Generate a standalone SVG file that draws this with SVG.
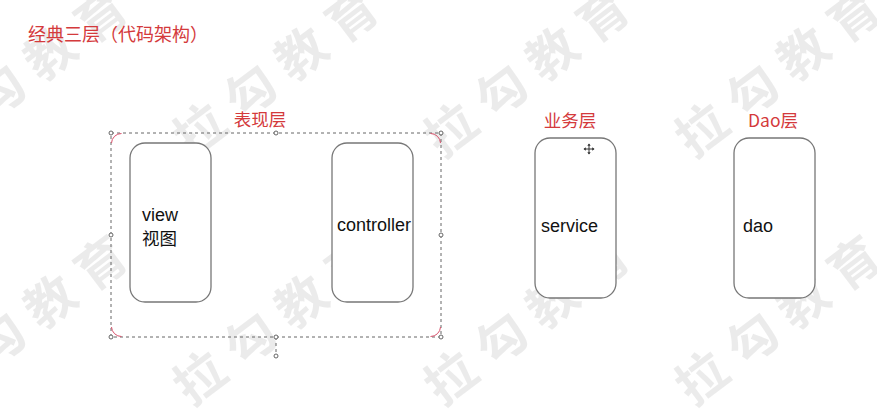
<svg xmlns="http://www.w3.org/2000/svg" width="877" height="409" viewBox="0 0 877 409">
<style>
.wm{font-family:"Noto Sans CJK SC","Noto Sans",sans-serif;font-weight:700;font-size:50px;letter-spacing:13.5px;fill:#000;fill-opacity:0.08}
.title{font-family:"Noto Sans CJK SC","Liberation Sans",sans-serif;fill:#d43a3c}
.box{fill:#fff;stroke:#777;stroke-width:1.3}
.lbl{font-family:"Liberation Sans","Noto Sans CJK SC",sans-serif;font-size:18px;fill:#111}
.cjk{font-family:"Noto Sans CJK SC",sans-serif;font-size:17.5px;fill:#111}
.sel{fill:none;stroke:#666;stroke-width:1;stroke-dasharray:3 3}
.hdl{fill:#fff;stroke:#666;stroke-width:1}
.arc{fill:none;stroke:#d9506a;stroke-width:1}
</style>
<rect width="877" height="409" fill="#fff"/>
<g id="watermarks">
<text class="wm" transform="translate(-51,130) rotate(-37)" x="-25" y="18">拉勾教育</text>
<text class="wm" transform="translate(200,130) rotate(-37)" x="-25" y="18">拉勾教育</text>
<text class="wm" transform="translate(451,130) rotate(-37)" x="-25" y="18">拉勾教育</text>
<text class="wm" transform="translate(702,130) rotate(-37)" x="-25" y="18">拉勾教育</text>
<text class="wm" transform="translate(-51,378) rotate(-37)" x="-25" y="18">拉勾教育</text>
<text class="wm" transform="translate(200,378) rotate(-37)" x="-25" y="18">拉勾教育</text>
<text class="wm" transform="translate(451,378) rotate(-37)" x="-25" y="18">拉勾教育</text>
<text class="wm" transform="translate(702,378) rotate(-37)" x="-25" y="18">拉勾教育</text>
</g>
<g id="title">
<text class="title" x="28" y="41" font-size="18">经典三层（代码架构）</text>
</g>
<g id="presentation-layer">
<text class="title" x="260" y="126" font-size="17.5" text-anchor="middle">表现层</text>
<rect class="sel" x="111" y="133" width="330" height="204"/>
<path class="arc" d="M111.5 143 A10 10 0 0 1 121.5 133.5"/>
<path class="arc" d="M430.5 133.5 A10 10 0 0 1 440.5 143"/>
<path class="arc" d="M111.5 327 A10 10 0 0 0 121.5 336.5"/>
<path class="arc" d="M430.5 336.5 A10 10 0 0 0 440.5 327"/>
<line class="sel" x1="276" y1="337" x2="276" y2="356"/>
<circle class="hdl" cx="111" cy="133" r="2"/>
<circle class="hdl" cx="276" cy="133" r="2"/>
<circle class="hdl" cx="441" cy="133" r="2"/>
<circle class="hdl" cx="111" cy="235" r="2"/>
<circle class="hdl" cx="441" cy="235" r="2"/>
<circle class="hdl" cx="111" cy="337" r="2"/>
<circle class="hdl" cx="276" cy="337" r="2"/>
<circle class="hdl" cx="441" cy="337" r="2"/>
<circle class="hdl" cx="276" cy="356" r="2"/>
</g>
<g id="view">
<rect class="box" x="130" y="143" width="81" height="159" rx="15"/>
<text class="lbl" x="142" y="221">view</text>
<text class="cjk" x="142" y="245">视图</text>
</g>
<g id="controller">
<rect class="box" x="332" y="143" width="81" height="159" rx="15"/>
<text class="lbl" x="337" y="231">controller</text>
</g>
<g id="service-layer">
<text class="title" x="570" y="127" font-size="17.5" text-anchor="middle">业务层</text>
<rect class="box" x="535" y="138" width="81" height="160" rx="15"/>
<text class="lbl" x="541" y="232">service</text>
<g stroke="#333" stroke-width="1" fill="none">
<line x1="589" y1="144" x2="589" y2="154"/>
<line x1="584" y1="149" x2="594" y2="149"/>
</g>
<g fill="#333">
<path d="M589 143.5 L587.3 145.8 L590.7 145.8Z"/>
<path d="M589 154.5 L587.3 152.2 L590.7 152.2Z"/>
<path d="M583.5 149 L585.8 147.3 L585.8 150.7Z"/>
<path d="M594.5 149 L592.2 147.3 L592.2 150.7Z"/>
</g>
</g>
<g id="dao-layer">
<text class="title" x="773" y="127" font-size="17.5" text-anchor="middle">Dao层</text>
<rect class="box" x="734" y="138" width="81" height="160" rx="15"/>
<text class="lbl" x="743" y="232">dao</text>
</g>
<g id="connectors"></g>
</svg>
